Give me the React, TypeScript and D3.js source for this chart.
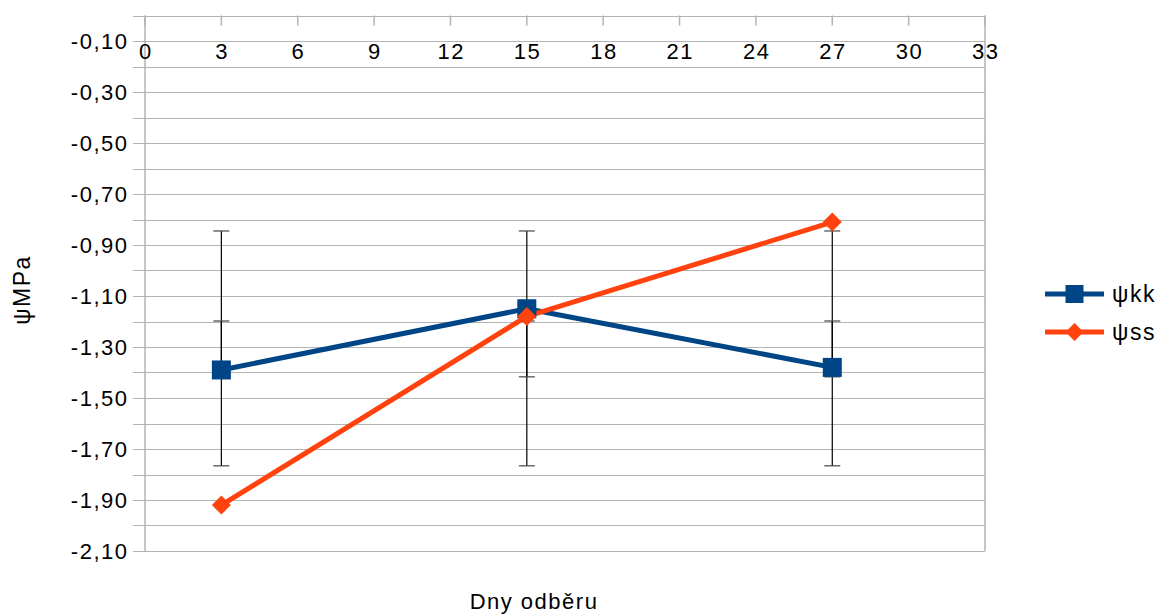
import React from "react";
import * as d3 from "d3";

const days = [3, 15, 27];
const psiKK = [-1.39, -1.15, -1.38];
const psiSS = [-1.92, -1.18, -0.81];
const errBig = [[-0.845, -1.766], [-0.845, -1.766], [-0.845, -1.766]];
const errSmall = [[-1.198, -1.417], [-1.198, -1.417], [-1.198, -1.417]];
const xTicks = [0, 3, 6, 9, 12, 15, 18, 21, 24, 27, 30, 33];
const yLabels = [-0.1, -0.3, -0.5, -0.7, -0.9, -1.1, -1.3, -1.5, -1.7, -1.9, -2.1];
const yGrid = d3.range(0, 22).map((i) => -i / 10);
const seriesNames = ["ψkk", "ψss"];
const colors = ["#004586", "#ff420e"];

const W = 1163, H = 614;
const L = 145, R = 985, T = 15.5, B = 551;
const FONT = "'Liberation Sans', Arial, sans-serif";
const LS = 1.5;

export default function App() {
  const x = d3.scaleLinear().domain([0, 33]).range([L, R]);
  const y = d3.scaleLinear().domain([-2.1, 0]).range([B, T]);
  const line = d3.line<number>().x((_, i) => x(days[i])).y((d) => y(d));
  const fmt = (v: number) => v.toFixed(2).replace(".", ",");
  const diamond = (cx: number, cy: number, r: number) =>
    `M${cx},${cy - r}L${cx + r},${cy}L${cx},${cy + r}L${cx - r},${cy}Z`;

  const errBar = (xv: number, lo: number, hi: number, key: string) => (
    <g key={key}>
      <line x1={x(xv)} x2={x(xv)} y1={y(lo)} y2={y(hi)} stroke="#000" strokeWidth={1.2} />
      <line x1={x(xv) - 8} x2={x(xv) + 8} y1={y(lo)} y2={y(lo)} stroke="#444" strokeWidth={1.2} />
      <line x1={x(xv) - 8} x2={x(xv) + 8} y1={y(hi)} y2={y(hi)} stroke="#444" strokeWidth={1.2} />
    </g>
  );

  return (
    <svg width={W} height={H} style={{ position: "absolute", left: 0, top: 0 }} fontFamily={FONT}>
      <rect width={W} height={H} fill="#fff" />
      {yGrid.map((v) => (
        <line key={"g" + v} x1={133} x2={R} y1={Math.round(y(v)) + 0.5} y2={Math.round(y(v)) + 0.5} stroke="#b3b3b3" strokeWidth={1} />
      ))}
      <line x1={L} x2={L} y1={T} y2={B} stroke="#b3b3b3" strokeWidth={1.5} />
      <line x1={R} x2={R} y1={T} y2={B} stroke="#b3b3b3" strokeWidth={1.5} />
      {xTicks.map((t) => (
        <g key={"x" + t}>
          <line x1={x(t)} x2={x(t)} y1={T} y2={T + 10} stroke="#b3b3b3" strokeWidth={1.5} />
          <text x={x(t) + LS / 2} y={59} textAnchor="middle" fontSize={22} letterSpacing={LS} fill="#000">{t}</text>
        </g>
      ))}
      {yLabels.map((v) => (
        <text key={"y" + v} x={127 + LS} y={y(v) + 8} textAnchor="end" fontSize={22} letterSpacing={LS} fill="#000">{fmt(v)}</text>
      ))}
      {days.map((d, i) => errBar(d, errBig[i][0], errBig[i][1], "eb" + i))}
      {days.map((d, i) => errBar(d, errSmall[i][0], errSmall[i][1], "es" + i))}
      <path d={line(psiKK) || ""} fill="none" stroke={colors[0]} strokeWidth={5} strokeLinejoin="round" />
      <path d={line(psiSS) || ""} fill="none" stroke={colors[1]} strokeWidth={5} strokeLinejoin="round" />
      {psiKK.map((v, i) => (
        <rect key={"mk" + i} x={x(days[i]) - 9.5} y={y(v) - 9.5} width={19} height={19} fill={colors[0]} />
      ))}
      {psiSS.map((v, i) => (
        <path key={"ms" + i} d={diamond(x(days[i]), y(v), 9.5)} fill={colors[1]} />
      ))}
      {seriesNames.map((n, i) => {
        const ly = 294 + i * 38;
        return (
          <g key={"lg" + i}>
            <line x1={1045} x2={1104} y1={ly} y2={ly} stroke={colors[i]} strokeWidth={5} />
            {i === 0 ? (
              <rect x={1074.5 - 9} y={ly - 9} width={18} height={18} fill={colors[0]} />
            ) : (
              <path d={diamond(1074.5, ly, 9)} fill={colors[1]} />
            )}
            <text x={1112} y={ly + 8} fontSize={23} letterSpacing={LS} fill="#000">{n}</text>
          </g>
        );
      })}
      <text x={534} y={609} textAnchor="middle" fontSize={22} letterSpacing={LS} fill="#000">Dny odběru</text>
      <text transform={`translate(30,290) rotate(-90)`} textAnchor="middle" fontSize={23} letterSpacing={LS} fill="#000">ψMPa</text>
    </svg>
  );
}
